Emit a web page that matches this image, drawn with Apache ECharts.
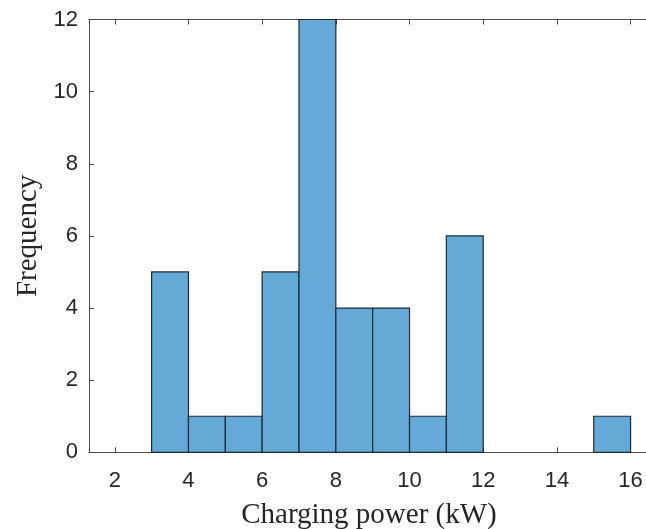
<!DOCTYPE html>
<html><head><meta charset="utf-8">
<script src="https://cdn.jsdelivr.net/npm/echarts@6/dist/echarts.min.js"></script>
<style>html,body{margin:0;padding:0;background:#fff}#c{width:646px;height:529px}</style>
</head><body><div id="c"></div>
<script>
const binStarts = [3, 4, 5, 6, 7, 8, 9, 10, 11, 15];
const binEnds   = [4, 5, 6, 7, 8, 9, 10, 11, 12, 16];
const counts    = [5, 1, 1, 5, 12, 4, 4, 1, 6, 1];
const xTicks = [2, 4, 6, 8, 10, 12, 14, 16];

const data = binStarts.map((s, i) => [s, binEnds[i], counts[i]]);
const chart = echarts.init(document.getElementById('c'));
const axisCol = '#4d4d4d';
const tickFont = {fontFamily: 'Liberation Sans, Arial, sans-serif', fontSize: 22, color: '#262626'};
const nameFont = {fontFamily: 'Liberation Serif, Times New Roman, serif', fontSize: 29, color: '#262626'};
chart.setOption({
  animation: false,
  grid: {left: 89, top: 19.5, width: 560, height: 432.8, containLabel: false, outerBoundsMode: 'none'},
  xAxis: [{
    type: 'value', min: 1.3, max: 16.5,
    name: 'Charging power (kW)', nameLocation: 'middle', nameGap: 49,
    nameTextStyle: nameFont,
    axisLine: {show: true, onZero: false, lineStyle: {color: axisCol, width: 1}},
    axisTick: {show: true, inside: true, length: 5, lineStyle: {color: axisCol}, customValues: xTicks},
    axisLabel: Object.assign({margin: 18, customValues: xTicks}, tickFont),
    splitLine: {show: false}
  }, {
    type: 'value', position: 'top', min: 1.3, max: 16.5,
    axisLine: {show: true, onZero: false, lineStyle: {color: axisCol, width: 1}},
    axisTick: {show: true, inside: true, length: 5, lineStyle: {color: axisCol}, customValues: xTicks},
    axisLabel: {show: false},
    splitLine: {show: false}
  }],
  yAxis: {
    type: 'value', min: 0, max: 12, interval: 2,
    name: 'Frequency', nameLocation: 'middle', nameGap: 43,
    nameTextStyle: nameFont,
    axisLine: {show: true, lineStyle: {color: axisCol, width: 1}},
    axisTick: {show: true, inside: true, length: 5, lineStyle: {color: axisCol}},
    axisLabel: Object.assign({margin: 11}, tickFont),
    splitLine: {show: false}
  },
  series: [{
    type: 'custom',
    data: data,
    encode: {x: [0, 1], y: 2},
    renderItem: function (params, api) {
      const p0 = api.coord([api.value(0), api.value(2)]);
      const p1 = api.coord([api.value(1), 0]);
      return {
        type: 'rect',
        shape: {x: p0[0], y: p0[1], width: p1[0] - p0[0], height: p1[1] - p0[1]},
        style: {fill: '#65a9d7', stroke: '#1f2a33', lineWidth: 1.2}
      };
    }
  }]
});
</script></body></html>
